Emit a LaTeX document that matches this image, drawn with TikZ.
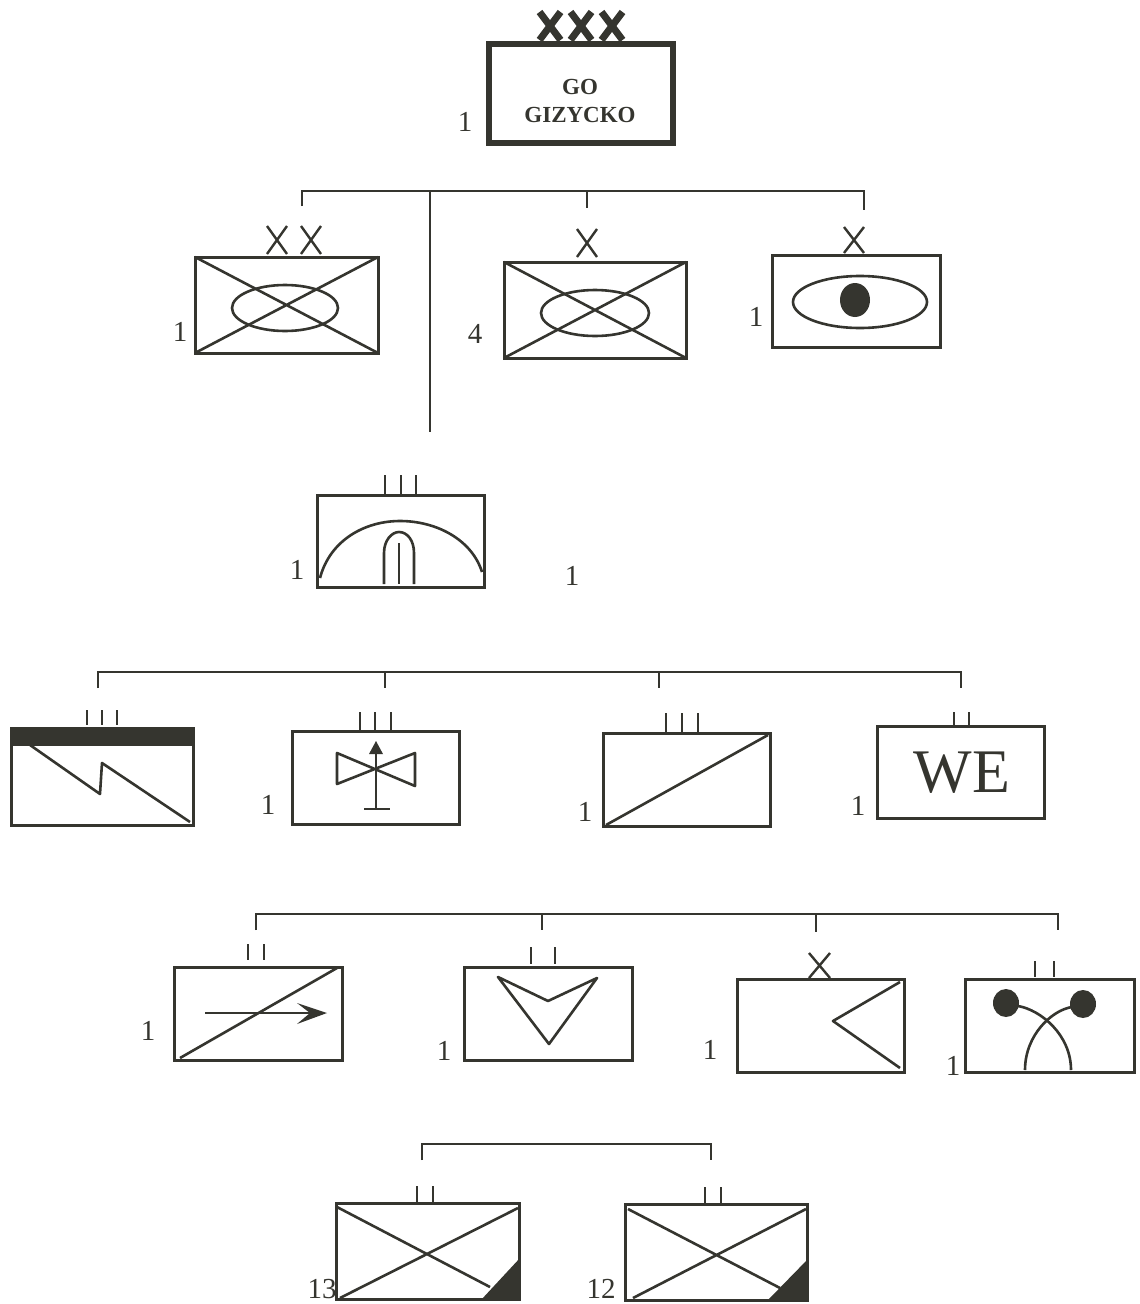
\documentclass[tikz,border=0pt]{standalone}
\usepackage{fontspec}
\setmainfont{Liberation Serif}
\definecolor{ink}{HTML}{35352F}
\newcommand{\unitbox}[6][frame]{%
  \pgfmathsetmacro{\ubx}{(#3+#5)/2}\pgfmathsetmacro{\uby}{(#4+#6)/2}%
  \pgfmathsetmacro{\ubw}{#5-#3}\pgfmathsetmacro{\ubh}{#6-#4}%
  \node[#1,minimum width=\ubw pt,minimum height=\ubh pt] (#2) at (\ubx,\uby) {};}
\tikzset{
  frame/.style={draw=ink,line width=3pt,inner sep=0pt,outer sep=0pt,rectangle},
  heavyframe/.style={draw=ink,line width=5.5pt,inner sep=0pt,outer sep=0pt,rectangle},
  conn/.style={draw=ink,line width=2pt},
  sym/.style={draw=ink,line width=2.6pt,line join=round},
  thintick/.style={draw=ink,line width=2.4pt},
  num/.style={text=ink,font=\fontsize{29}{31}\selectfont,inner sep=0pt},
  heavycross/.style={draw=ink,line width=7pt},
  dot/.style={fill=ink,draw=none},
}
\begin{document}
\begin{tikzpicture}[x=1pt,y=-1pt]
\useasboundingbox[fill=white] (0,0) rectangle (1140,1304);
% top
\unitbox[heavyframe]{go}{489}{44}{673}{143}
\foreach \c in {550,581,612}{\draw[heavycross] (\c-10.5,40) -- (\c+10.5,12) (\c-10.5,12) -- (\c+10.5,40);}
\node[text=ink,font=\bfseries\fontsize{23}{25}\selectfont,inner sep=0pt] (gotxt) at (580,87) {GO};
\node[text=ink,font=\bfseries\fontsize{23}{25}\selectfont,inner sep=0pt] (gizycko) at (580,115) {GIZYCKO};
\node[num] (n1) at (465,122) {1};
% bus 1
\coordinate (b1l) at (302,191); \coordinate (b1r) at (864,191);
\coordinate (b1ld) at (302,206); \coordinate (b1rd) at (864,210);
\coordinate (b1m) at (587,191); \coordinate (b1md) at (587,208);
\coordinate (b1s) at (430,191); \coordinate (b1sd) at (430,432);
\draw[conn] (b1ld) -- (b1l) -- (b1r) -- (b1rd);
\draw[conn] (b1m) -- (b1md);
\draw[conn] (b1s) -- (b1sd);
% row 1
\unitbox{a}{195}{257}{378}{353}
\draw[sym] (a.north west) -- (a.south east) (a.south west) -- (a.north east);
\draw[sym] (285,308) ellipse (53 and 23);
\foreach \c in {277,311}{\draw[thintick] (\c-10,254) -- (\c+10,226) (\c-10,226) -- (\c+10,254);}
\node[num] (n2) at (180,332) {1};
\unitbox{b}{504}{262}{686}{358}
\draw[sym] (b.north west) -- (b.south east) (b.south west) -- (b.north east);
\draw[sym] (595,313) ellipse (54 and 23);
\draw[thintick] (577,257) -- (597,229) (577,229) -- (597,257);
\node[num] (n3) at (475,334) {4};
\unitbox{c}{772}{255}{940}{347}
\draw[sym] (860,302) ellipse (67 and 26);
\fill[dot] (855,300) ellipse (15 and 17);
\draw[thintick] (844,253) -- (864,227) (844,227) -- (864,253);
\node[num] (n4) at (756,317) {1};
% row 2
\unitbox{d}{317}{495}{484}{587}
\foreach \c in {385,401,416}{\draw[thintick] (\c,475) -- (\c,494);}
\draw[sym] (320,578) .. controls (330,540) and (365,521) .. (400,521) .. controls (437,521) and (472,540) .. (482,572);
\draw[sym] (384,584) -- (384,553) .. controls (384,540) and (392,532) .. (399,532) .. controls (407,532) and (414,540) .. (414,553) -- (414,584);
\draw[sym] (399,543) -- (399,584);
\node[num] (n5) at (297,570) {1};
\node[num] (n6) at (572,576) {1};
% bus 3
\coordinate (b3a) at (98,672); \coordinate (b3ad) at (98,688);
\coordinate (b3b) at (385,672); \coordinate (b3bd) at (385,688);
\coordinate (b3c) at (659,672); \coordinate (b3cd) at (659,688);
\coordinate (b3e) at (961,672); \coordinate (b3ed) at (961,688);
\draw[conn] (b3ad) -- (b3a) -- (b3e) -- (b3ed);
\draw[conn] (b3b) -- (b3bd) (b3c) -- (b3cd);
% row 3
\unitbox{e}{11}{728}{193}{825}
\fill[ink] (10,727) rectangle (195,746);
\foreach \c in {87,102,117}{\draw[thintick] (\c,710) -- (\c,725);}
\draw[sym] (30,745) -- (100,794) -- (102,763) -- (190,822);
\unitbox{f}{292}{731}{459}{824}
\foreach \c in {360,375,391}{\draw[thintick] (\c,712) -- (\c,730);}
\draw[sym] (337,753) -- (415,786) -- (415,753) -- (337,784) -- cycle;
\draw[sym] (376,809) -- (376,750);
\fill[ink] (376,741) -- (383,754) -- (369,754) -- cycle;
\draw[sym] (364,809) -- (390,809);
\node[num] (n7) at (268,805) {1};
\unitbox{g}{603}{733}{770}{826}
\foreach \c in {666,682,698}{\draw[thintick] (\c,713) -- (\c,732);}
\draw[sym] (606,825) -- (768,735);
\node[num] (n8) at (585,812) {1};
\unitbox{h}{877}{726}{1044}{818}
\foreach \c in {954,969}{\draw[thintick] (\c,712) -- (\c,725);}
\node[text=ink,font=\fontsize{62}{64}\selectfont,inner sep=0pt] (we) at (962,773) {WE};
\node[num] (n9) at (858,806) {1};
% bus 4
\coordinate (b4a) at (256,914); \coordinate (b4ad) at (256,930);
\coordinate (b4b) at (542,914); \coordinate (b4bd) at (542,930);
\coordinate (b4c) at (816,914); \coordinate (b4cd) at (816,932);
\coordinate (b4e) at (1058,914); \coordinate (b4ed) at (1058,930);
\draw[conn] (b4ad) -- (b4a) -- (b4e) -- (b4ed);
\draw[conn] (b4b) -- (b4bd) (b4c) -- (b4cd);
% row 4
\unitbox{i}{174}{967}{342}{1060}
\foreach \c in {248,264}{\draw[thintick] (\c,944) -- (\c,960);}
\draw[sym] (180,1058) -- (337,968);
\draw[sym] (205,1013) -- (322,1013);
\fill[ink] (297,1003) -- (327,1013) -- (297,1024) -- (310,1013) -- cycle;
\node[num] (n10) at (148,1031) {1};
\unitbox{j}{464}{967}{632}{1060}
\foreach \c in {531,555}{\draw[thintick] (\c,947) -- (\c,964);}
\draw[sym] (498,977) -- (548,1001) -- (597,978) -- (549,1044) -- cycle;
\node[num] (n11) at (444,1051) {1};
\unitbox{k}{737}{979}{904}{1072}
\draw[thintick] (809,978) -- (830,953) (809,953) -- (830,978);
\draw[sym] (900,982) -- (833,1021) -- (900,1068);
\node[num] (n12) at (710,1050) {1};
\unitbox{l}{965}{979}{1134}{1072}
\foreach \c in {1035,1054}{\draw[thintick] (\c,961) -- (\c,977);}
\fill[dot] (1006,1003) ellipse (13 and 14);
\fill[dot] (1083,1004) ellipse (13 and 14);
\draw[sym] (1018,1006) .. controls (1041,1010) and (1071,1035) .. (1071,1070);
\draw[sym] (1072,1007) .. controls (1052,1010) and (1025,1035) .. (1025,1070);
\node[num] (n13) at (953,1066) {1};
% bus 5
\coordinate (b5a) at (422,1144); \coordinate (b5ad) at (422,1160);
\coordinate (b5b) at (711,1144); \coordinate (b5bd) at (711,1160);
\draw[conn] (b5ad) -- (b5a) -- (b5b) -- (b5bd);
% row 5
\unitbox{m}{336}{1203}{519}{1299}
\foreach \c in {417,433}{\draw[thintick] (\c,1186) -- (\c,1202);}
\draw[sym] (337,1207) -- (490,1287) (340,1298) -- (518,1208);
\fill[ink] (481,1300) -- (520,1258) -- (520,1300) -- cycle;
\node[num] (n14) at (322,1289) {13};
\unitbox{n}{625}{1204}{807}{1300}
\foreach \c in {705,721}{\draw[thintick] (\c,1187) -- (\c,1203);}
\draw[sym] (628,1209) -- (780,1288) (633,1298) -- (806,1209);
\fill[ink] (767,1301) -- (808,1259) -- (808,1301) -- cycle;
\node[num] (n15) at (601,1289) {12};
\end{tikzpicture}
\end{document}
